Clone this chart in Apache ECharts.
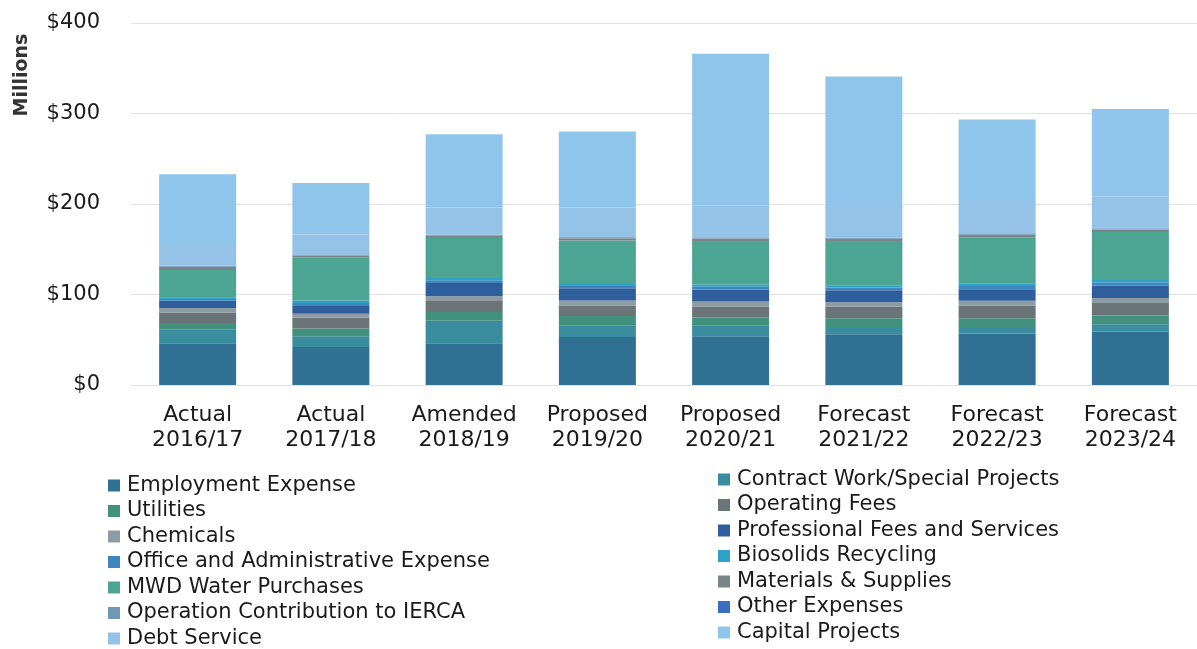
<!DOCTYPE html>
<html>
<head>
<meta charset="utf-8">
<script src="https://cdn.jsdelivr.net/npm/echarts@6/dist/echarts.min.js"></script>
<style>
html,body{margin:0;padding:0;background:#fff;}
#chart{width:1197px;height:649px;}
</style>
</head>
<body>
<div id="chart"></div>
<script>
// ---- data (millions of dollars) ----
var categories = ['Actual\n2016/17','Actual\n2017/18','Amended\n2018/19','Proposed\n2019/20','Proposed\n2020/21','Forecast\n2021/22','Forecast\n2022/23','Forecast\n2023/24'];
var yTicks = [0, 100, 200, 300, 400];

var employmentExpense   = [46, 42, 46, 53, 54, 56, 57, 59];
var contractWork        = [15, 12, 25, 13, 12, 8, 7, 8];
var utilities           = [7.4, 8.5, 9.6, 10.3, 8.7, 9.8, 9.8, 9.8];
var operatingFees       = [11.8, 11.8, 13, 11.6, 12, 12.7, 13.8, 13.8];
var chemicals           = [4.8, 4.4, 4.4, 5.5, 5.5, 4.8, 5.5, 5.5];
var professionalFees    = [8, 8.5, 14.8, 13.5, 13.4, 13.4, 12.7, 13.8];
var officeAdmin         = [2, 3.3, 3, 2.5, 3, 3, 3.5, 3.3];
var biosolidsRecycling  = [2, 3, 2.5, 2.2, 2.5, 2.5, 3, 2.8];
var mwdWaterPurchases   = [30, 47, 44, 48, 48, 49, 51, 53];
var materialsSupplies   = [3.7, 2.6, 2.6, 2.5, 2.8, 2.5, 2.9, 2.9];
var operationIERCA      = [0.5, 0.5, 0.5, 0.5, 0.5, 0.5, 0.5, 0.5];
var otherExpenses       = [0.6, 0.6, 0.6, 0.6, 0.6, 0.6, 0.6, 0.6];
var debtService         = [25, 22, 30, 33, 35, 35, 35, 35];
var capitalProjects     = [76, 57, 81, 84, 168, 143, 91, 97];

var seriesNames = ['Employment Expense','Contract Work/Special Projects','Utilities','Operating Fees','Chemicals','Professional Fees and Services','Office and Administrative Expense','Biosolids Recycling','MWD Water Purchases','Materials & Supplies','Operation Contribution to IERCA','Other Expenses','Debt Service','Capital Projects'];
var seriesData = [employmentExpense, contractWork, utilities, operatingFees, chemicals, professionalFees, officeAdmin, biosolidsRecycling, mwdWaterPurchases, materialsSupplies, operationIERCA, otherExpenses, debtService, capitalProjects];
var seriesColors = ['#2f7093','#3a8c9f','#42917c','#6b7476','#8c9ca2','#2f5e9c','#3f86bf','#2fa0c8','#4ca493','#7b8589','#6e98b4','#3a6fc0','#95c3e7','#8fc5ea'];

var legendLeft = ['Employment Expense','Utilities','Chemicals','Office and Administrative Expense','MWD Water Purchases','Operation Contribution to IERCA','Debt Service'];
var legendRight = ['Contract Work/Special Projects','Operating Fees','Professional Fees and Services','Biosolids Recycling','Materials & Supplies','Other Expenses','Capital Projects'];

var FONT = 'DejaVu Sans';
var chart = echarts.init(document.getElementById('chart'), null, {renderer:'canvas'});

var series = seriesNames.map(function(n, i){
  return {
    name: n, type: 'bar', stack: 'total', barWidth: 77,
    itemStyle: {color: seriesColors[i]},
    emphasis: {disabled: true},
    data: seriesData[i]
  };
});

function legendCfg(data, left, top){
  return {
    data: data, orient: 'vertical', left: left, top: top, padding: 0,
    icon: 'rect', itemWidth: 12, itemHeight: 12, itemGap: 4.5,
    textStyle: {fontFamily: FONT, fontSize: 21, lineHeight: 21, color: '#1a1a1a', padding: [0,0,0,2]},
    selectedMode: false
  };
}

chart.setOption({
  animation: false,
  backgroundColor: '#ffffff',
  textStyle: {fontFamily: FONT},
  grid: {left: 131, right: -8, top: 23, bottom: 264, containLabel: false},
  legend: [legendCfg(legendLeft, 108, 475), legendCfg(legendRight, 718, 469)],
  graphic: [{
    type: 'text', x: 22, y: 75, rotation: Math.PI/2,
    style: {text: 'Millions', font: 'bold 19px ' + FONT, fill: '#333', align: 'center', verticalAlign: 'middle'}
  }],
  xAxis: {
    type: 'category', data: categories,
    axisLine: {show: false}, axisTick: {show: false},
    axisLabel: {fontFamily: FONT, fontSize: 22, lineHeight: 25, color: '#1a1a1a', margin: 18, interval: 0}
  },
  yAxis: {
    type: 'value', min: yTicks[0], max: yTicks[yTicks.length-1], interval: 100,
    axisLine: {show: false}, axisTick: {show: false},
    splitLine: {lineStyle: {color: '#e2e2e2', width: 1}},
    axisLabel: {fontFamily: FONT, fontSize: 21, color: '#1a1a1a', margin: 31, formatter: function(v){ return '$' + v; }}
  },
  series: series
});
</script>
</body>
</html>
